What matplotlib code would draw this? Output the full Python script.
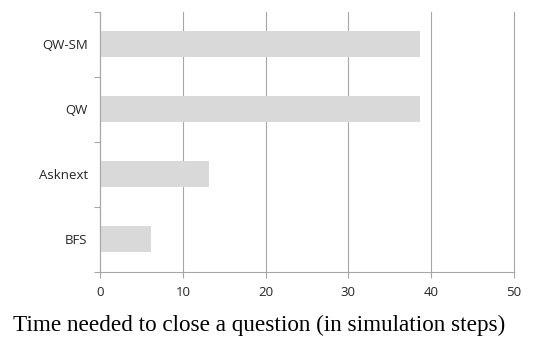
import numpy as np
import matplotlib.pyplot as plt
from matplotlib.ticker import FixedLocator

methods = ['BFS', 'Asknext', 'QW', 'QW-SM']
steps = [6.1, 13.1, 38.6, 38.6]
x_ticks = [0, 10, 20, 30, 40, 50]
xlabel = 'Time needed to close a question (in simulation steps)'

GRID = '#a6a6a6'

fig = plt.figure(figsize=(5.33, 3.38), dpi=100)
ax = fig.add_axes([0.188, 0.196, 0.776, 0.769])

y = np.arange(len(methods))
ax.barh(y, steps, height=0.4, color='#d9d9d9', zorder=2)

ax.set_xlim(0, 50)
ax.set_ylim(-0.5, len(methods) - 0.5)
ax.set_xticks(x_ticks)
ax.set_yticks(y)
ax.set_yticklabels(methods)
ax.yaxis.set_minor_locator(FixedLocator(np.arange(-0.5, len(methods), 1.0)))

ax.grid(axis='x', color=GRID, linewidth=0.8, zorder=0)
for gl in ax.get_xgridlines():
    gl.set_clip_on(False)
for s in ['top', 'right']:
    ax.spines[s].set_visible(False)
for s in ['left', 'bottom']:
    ax.spines[s].set_color(GRID)
    ax.spines[s].set_linewidth(0.8)

ax.tick_params(axis='y', which='major', length=0, pad=9)
ax.tick_params(axis='y', which='minor', length=4, color=GRID, width=0.8)
ax.tick_params(axis='x', length=4, color=GRID, width=0.8, pad=6)
for lab in ax.get_xticklabels() + ax.get_yticklabels():
    lab.set_fontfamily('Open Sans')
    lab.set_fontsize(9.5)
    lab.set_color('#262626')

fig.text(0.024, 0.036, xlabel, family='Liberation Serif', fontsize=16.7,
         va='center', ha='left', color='black')

fig.savefig('out.png', dpi=100)
